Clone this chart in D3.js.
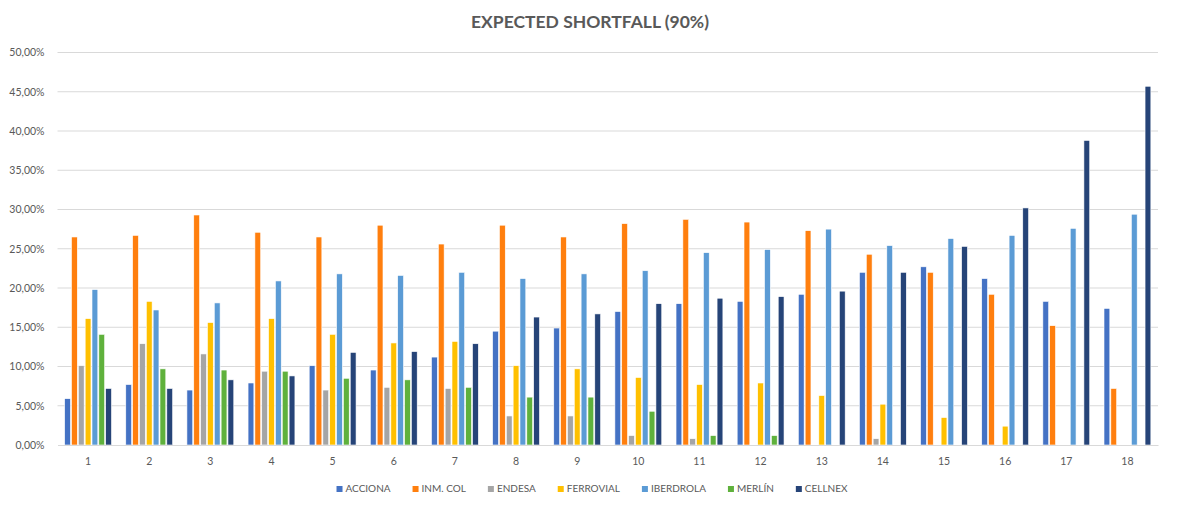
<!DOCTYPE html>
<html>
<head>
<meta charset="utf-8">
<script src="https://cdn.jsdelivr.net/npm/d3@7"></script>
<style>
  html, body { margin: 0; padding: 0; background: #fff; }
  svg { display: block; font-family: Lato, "Open Sans", sans-serif; }
</style>
</head>
<body>
<svg id="chart" width="1180" height="508"></svg>
<script>
// Periods on the x axis
const periods = ["1","2","3","4","5","6","7","8","9","10","11","12","13","14","15","16","17","18"];

// Expected shortfall (90%) per company, in percent; null = no bar
const acciona   = [5.9, 7.7, 7.0, 7.9, 10.1, 9.55, 11.2, 14.5, 14.9, 17.0, 18.0, 18.3, 19.2, 22.0, 22.7, 21.2, 18.3, 17.4];
const inmCol    = [26.5, 26.7, 29.3, 27.1, 26.5, 28.0, 25.6, 28.0, 26.5, 28.2, 28.75, 28.4, 27.3, 24.3, 22.0, 19.2, 15.2, 7.2];
const endesa    = [10.1, 12.9, 11.6, 9.4, 7.0, 7.35, 7.2, 3.7, 3.7, 1.2, 0.8, null, null, 0.8, null, null, null, null];
const ferrovial = [16.1, 18.3, 15.6, 16.1, 14.1, 13.0, 13.2, 10.1, 9.7, 8.6, 7.7, 7.9, 6.3, 5.2, 3.5, 2.4, null, null];
const iberdrola = [19.8, 17.2, 18.1, 20.9, 21.8, 21.6, 22.0, 21.2, 21.8, 22.2, 24.5, 24.9, 27.5, 25.4, 26.3, 26.7, 27.6, 29.4];
const merlin    = [14.1, 9.7, 9.55, 9.4, 8.5, 8.3, 7.35, 6.1, 6.1, 4.3, 1.2, 1.2, null, null, null, null, null, null];
const cellnex   = [7.2, 7.2, 8.3, 8.8, 11.8, 11.9, 12.9, 16.3, 16.7, 18.0, 18.7, 18.9, 19.6, 22.0, 25.3, 30.2, 38.8, 45.7];

// Y axis ticks
const yTicks = [0, 5, 10, 15, 20, 25, 30, 35, 40, 45, 50];

const series = [
  { name: "ACCIONA",   values: acciona,   color: "#4472C4" },
  { name: "INM. COL",  values: inmCol,    color: "#FF7F0E" },
  { name: "ENDESA",    values: endesa,    color: "#A5A5A5" },
  { name: "FERROVIAL", values: ferrovial, color: "#FFC000" },
  { name: "IBERDROLA", values: iberdrola, color: "#5B9BD5" },
  { name: "MERLÍN",    values: merlin,    color: "#5FB13C" },
  { name: "CELLNEX",   values: cellnex,   color: "#264478" }
];

const svg = d3.select("#chart");
const margin = { left: 57.5, right: 22, top: 52.5, bottom: 63 };
const W = 1180, H = 508;
const plotW = W - margin.left - margin.right;
const plotH = H - margin.top - margin.bottom;

const g = svg.append("g").attr("transform", `translate(${margin.left},${margin.top})`);

const x0 = d3.scaleBand().domain(periods).range([0, plotW]).paddingInner(0.2).paddingOuter(0.1);
const x1 = d3.scaleBand().domain(series.map(s => s.name)).range([0, x0.bandwidth()]).padding(0.15);
const y = d3.scaleLinear().domain([0, 50]).range([plotH, 0]);

const fmt = v => d3.format(".2f")(v).replace(".", ",") + "%";

// Gridlines
g.append("g")
  .selectAll("line")
  .data(yTicks.slice(1))
  .join("line")
  .attr("x1", 0).attr("x2", plotW)
  .attr("y1", d => y(d)).attr("y2", d => y(d))
  .attr("stroke", "#D9D9D9").attr("stroke-width", 1);

// Y axis labels
const yAxis = g.append("g")
  .call(d3.axisLeft(y).tickValues(yTicks).tickFormat(fmt).tickSize(0).tickPadding(13));
yAxis.select(".domain").remove();
yAxis.selectAll("text").attr("fill", "#595959").style("font-size", "10.5px").style("font-family", "Lato, sans-serif");

// Bars
const groups = g.append("g")
  .selectAll("g")
  .data(periods)
  .join("g")
  .attr("transform", d => `translate(${x0(d)},0)`);

groups.selectAll("rect")
  .data((p, i) => series.filter(s => s.values[i] != null).map(s => ({ s, v: s.values[i] })))
  .join("rect")
  .attr("x", d => x1(d.s.name))
  .attr("width", x1.bandwidth())
  .attr("y", d => y(d.v))
  .attr("height", d => y(0) - y(d.v))
  .attr("fill", d => d.s.color)
  .attr("stroke", "#fff")
  .attr("stroke-width", 0.6);

// X axis
const xAxis = g.append("g")
  .attr("transform", `translate(0,${plotH})`)
  .call(d3.axisBottom(x0).tickSize(0).tickPadding(13));
xAxis.select(".domain").attr("stroke", "#D9D9D9");
xAxis.selectAll("text").attr("fill", "#595959").style("font-size", "10.5px").style("font-family", "Lato, sans-serif");

// Title
svg.append("text")
  .attr("x", 590).attr("y", 28)
  .attr("text-anchor", "middle")
  .attr("fill", "#595959")
  .style("font-size", "17.5px")
  .style("font-weight", "bold")
  .style("font-family", "Lato, sans-serif")
  .text("EXPECTED SHORTFALL (90%)");

// Legend
const legend = svg.append("g").attr("transform", "translate(0,491)");
const items = legend.selectAll("g").data(series).join("g");
items.append("rect").attr("width", 6).attr("height", 6).attr("y", -5).attr("fill", d => d.color);
items.append("text")
  .attr("x", 9).attr("y", 1)
  .attr("fill", "#595959")
  .style("font-size", "10px")
  .style("font-family", "Lato, sans-serif")
  .text(d => d.name);
let cx = 0;
const widths = [];
items.each(function () {
  const w = this.querySelector("text").getComputedTextLength() + 9;
  widths.push(w);
});
const gap = 22;
const total = d3.sum(widths) + gap * (widths.length - 1);
cx = 592 - total / 2;
items.attr("transform", (d, i) => {
  const t = `translate(${cx},0)`;
  cx += widths[i] + gap;
  return t;
});
</script>
</body>
</html>
